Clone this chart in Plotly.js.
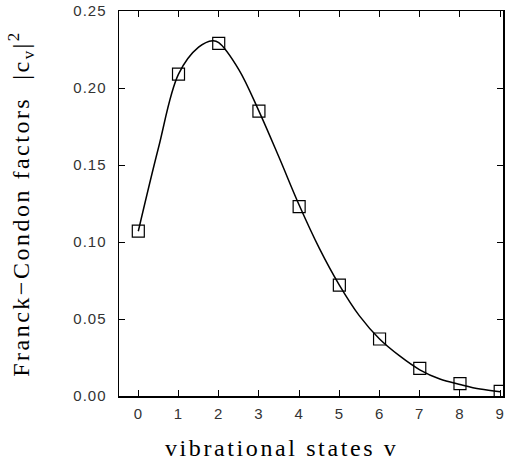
<!DOCTYPE html>
<html>
<head>
<meta charset="utf-8">
<script src="https://cdn.plot.ly/plotly-3.0.1.min.js"></script>
<style>
html,body{margin:0;padding:0;background:#fff;}
#chart{width:505px;height:465px;}
#chart text.ytitle{letter-spacing:2.5px;}
#chart text.annotation-text{letter-spacing:2.6px;}
#chart .xtick text,#chart .ytick text{letter-spacing:1px;}
</style>
</head>
<body>
<div id="chart"></div>
<script>
// measured Franck-Condon factors
const states = [0, 1, 2, 3, 4, 5, 6, 7, 8, 9];
const fcFactors = [0.107, 0.209, 0.229, 0.185, 0.123, 0.072, 0.037, 0.018, 0.008, 0.003];
// smooth curve
const curveV = [0, 0.5, 1, 1.5, 1.85, 2, 2.5, 3, 3.5, 4, 4.5, 5, 5.5, 6, 6.5, 7, 7.5, 8, 8.5, 9];
const curveY = [0.107, 0.161, 0.209, 0.2265, 0.2307, 0.2295, 0.212, 0.185, 0.155, 0.124, 0.096, 0.072, 0.052, 0.037, 0.026, 0.017, 0.011, 0.0075, 0.0045, 0.0028];
const xTicks = [0, 1, 2, 3, 4, 5, 6, 7, 8, 9];
const yTicks = [0, 0.05, 0.10, 0.15, 0.20, 0.25];
const xTitle = 'vibrational states v';
const yTitle = 'Franck\u2212Condon factors\u00a0\u00a0|c<sub>v</sub>|<sup>2</sup>';

const traces = [
  {x: curveV, y: curveY, mode: 'lines', line: {color: '#000', width: 1.5, shape: 'spline', smoothing: 1}, hoverinfo: 'skip'},
  {x: states, y: fcFactors, mode: 'markers', marker: {symbol: 'square-open', size: 12, color: '#000', line: {width: 1.2, color: '#000'}}}
];

const titleFont = {family: 'Liberation Serif, serif', size: 24, color: '#000'};
const tickFont = {family: 'Liberation Sans, Arial, sans-serif', size: 15, color: '#333'};
const layout = {
  width: 505, height: 465,
  margin: {l: 119, r: 2, t: 11, b: 69},
  showlegend: false,
  paper_bgcolor: '#fff', plot_bgcolor: '#fff',
  xaxis: {
    range: [-0.48, 9.07], tickvals: xTicks, ticktext: xTicks.map(String),
    ticks: 'inside', ticklen: 6, tickwidth: 1, tickcolor: '#000',
    showline: true, linecolor: '#000', linewidth: 1.5, mirror: 'ticks',
    showgrid: false, zeroline: false, ticklabelstandoff: 3,
    tickfont: tickFont
  },
  yaxis: {
    range: [0, 0.25], tickvals: yTicks, ticktext: yTicks.map(v => v.toFixed(2)),
    ticks: 'inside', ticklen: 6, tickwidth: 1, tickcolor: '#000',
    showline: true, linecolor: '#000', linewidth: 1.5, mirror: 'ticks',
    showgrid: false, zeroline: false, ticklabelstandoff: 8,
    tickfont: tickFont,
    title: {text: yTitle, font: titleFont, standoff: 41}
  },
  annotations: [{
    text: xTitle, xref: 'paper', yref: 'paper', x: 0.424, y: -0.135,
    xanchor: 'center', yanchor: 'middle', showarrow: false, font: titleFont
  }]
};

Plotly.newPlot('chart', traces, layout, {displayModeBar: false, staticPlot: true});
</script>
</body>
</html>
